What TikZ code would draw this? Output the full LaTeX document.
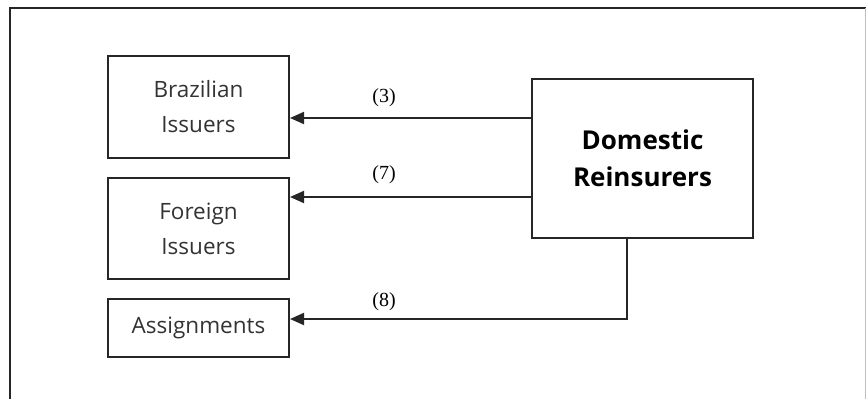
\documentclass[tikz,border=0pt]{standalone}
\usepackage{fontspec}
\setmainfont{Open Sans}
\newfontfamily\lblfont{Liberation Serif}
\usetikzlibrary{arrows.meta}
\begin{document}
\begin{tikzpicture}[x=1pt,y=-1pt,
  box/.style={draw=black!85,line width=2pt,minimum width=181pt,inner sep=0pt,align=center,
    font=\fontsize{22.5}{35}\selectfont,text=black!80},
  dombox/.style={draw=black!85,line width=2pt,minimum width=221pt,minimum height=159pt,inner sep=0pt,align=center,
    font=\fontsize{26}{37}\selectfont\bfseries,text=black},
  arr/.style={draw=black!85,line width=2pt,-{Triangle[length=14pt,width=12pt]}},
  lbl/.style={font=\fontsize{20}{22}\lblfont,text=black}]
\useasboundingbox (0,0) rectangle (866,399);
% outer frame
\draw[black!85,line width=2pt] (10,399) -- (10,8) -- (866,8);
\draw[black!25,line width=1pt] (865.5,8) -- (865.5,399);
% nodes
\node[box,minimum height=102pt] (braz) at (198.5,107) {Brazilian\\Issuers};
\node[box,minimum height=101pt] (forn) at (198.5,228.5) {Foreign\\Issuers};
\node[box,minimum height=58pt] (asg) at (198.5,328) {Assignments};
\node[dombox] (dom) at (642.5,158.5) {Domestic\\Reinsurers};
% connectors
\coordinate (c3) at (0,118);
\coordinate (c7) at (0,197);
\coordinate (c8) at (627,319);
\draw[arr] (dom.west |- c3) -- (braz.east |- c3);
\draw[arr] (dom.west |- c7) -- (forn.east |- c7);
\draw[arr] (dom.south -| c8) -- (c8) -- (asg.east |- c8);
% labels
\node[lbl] (l3) at (384,98) {(3)};
\node[lbl] (l7) at (384,175) {(7)};
\node[lbl] (l8) at (384,302) {(8)};
\end{tikzpicture}
\end{document}
